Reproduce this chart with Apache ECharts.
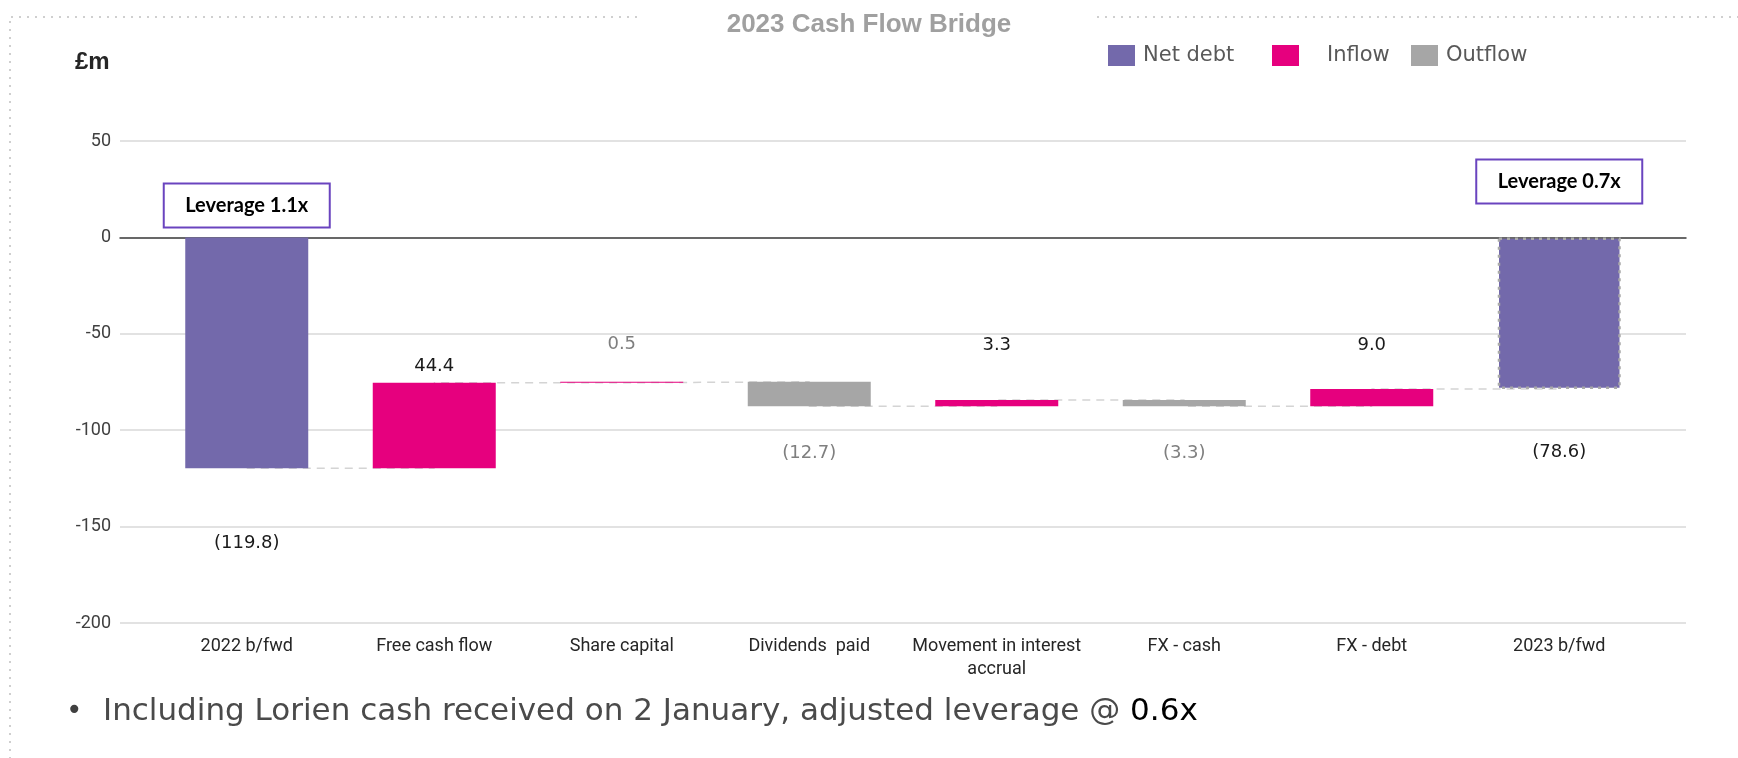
<!DOCTYPE html>
<html>
<head>
<meta charset="utf-8">
<script src="https://cdn.jsdelivr.net/npm/echarts@6/dist/echarts.min.js"></script>
<style>
  html, body { margin: 0; padding: 0; background: #ffffff; }
  #chart { width: 1738px; height: 758px; }
</style>
</head>
<body>
<div id="chart"></div>
<script>
// ---- data ----
const categories = ['2022 b/fwd', 'Free cash flow', 'Share capital', 'Dividends  paid',
  'Movement in interest\naccrual', 'FX - cash', 'FX - debt', '2023 b/fwd'];
const openingNetDebt = -119.8;
const closingNetDebt = -78.6;
// movements for the six bridge steps (positive = inflow, negative = outflow)
const movements = [44.4, 0.5, -12.7, 3.3, -3.3, 9.0];
const leverageLabels = ['Leverage 1.1x', 'Leverage 0.7x'];
const yTickValues = [-200, -150, -100, -50, 0, 50];
const footnoteText = 'Including Lorien cash received on 2 January, adjusted leverage @ ';
const footnoteValue = '0.6x';

// ---- colours / styling ----
const C_NET = '#7369ab';
const C_IN = '#e6007e';
const C_OUT = '#a6a6a6';
const LABEL_DARK = '#1a1a1a';
const LABEL_GREY = '#7f7f7f';
const LABEL_FONT = 'DejaVu Sans';

// label distance (px) from each bar edge, by category index
const labelGap = [66, 7, 28, 38, 46, 38, 35, 54];
const labelGrey = [false, false, true, true, false, true, false, false];
const leverageGap = [11, 35];

const round1 = v => Math.round(v * 10) / 10;

// running net debt after each category
const totals = [openingNetDebt];
movements.forEach(m => totals.push(round1(totals[totals.length - 1] + m)));
totals.push(closingNetDebt);

const last = categories.length - 1;
const baseData = [], netData = [], inData = [], outData = [];

const valueLabel = (i, text, pos) => ({
  show: true, position: pos, distance: labelGap[i], formatter: text,
  color: labelGrey[i] ? LABEL_GREY : LABEL_DARK,
  fontFamily: LABEL_FONT, fontSize: 18
});

const leverageLabel = (text, gap) => ({
  show: true, position: 'top', distance: gap, formatter: text,
  color: '#000000', fontFamily: 'Lato', fontWeight: 'bold', fontSize: 20,
  backgroundColor: '#ffffff', borderColor: '#6a44bf', borderWidth: 2,
  width: 164, height: 42, lineHeight: 42, align: 'center', padding: 0
});

categories.forEach((c, i) => {
  if (i === 0 || i === last) {
    const v = i === 0 ? openingNetDebt : closingNetDebt;
    baseData.push({ value: 0, label: leverageLabel(leverageLabels[i === 0 ? 0 : 1], leverageGap[i === 0 ? 0 : 1]) });
    const item = { value: v, label: valueLabel(i, '(' + Math.abs(v).toFixed(1) + ')', 'bottom') };
    if (i === last) {
      // closing balance outlined with a dotted frame
      item.itemStyle = { borderColor: '#a9a9a9', borderWidth: 2.5, borderType: [3, 5] };
    }
    netData.push(item);
    inData.push('-');
    outData.push('-');
  } else {
    const m = movements[i - 1];
    const upper = Math.max(totals[i - 1], totals[i]);
    baseData.push(upper);
    netData.push('-');
    if (m >= 0) {
      inData.push({ value: -m, label: valueLabel(i, m.toFixed(1), 'top') });
      outData.push('-');
    } else {
      outData.push({ value: m, label: valueLabel(i, '(' + Math.abs(m).toFixed(1) + ')', 'bottom') });
      inData.push('-');
    }
  }
});

const chart = echarts.init(document.getElementById('chart'), null, { renderer: 'canvas' });

const TOP = 141, BOTTOM = 135;

const option = {
  animation: false,
  backgroundColor: '#ffffff',
  title: {
    text: '2023 Cash Flow Bridge',
    left: 'center', top: 7,
    textStyle: { color: '#a0a0a0', fontSize: 26, fontWeight: 'bold', fontFamily: 'Liberation Sans' }
  },
  legend: [
    { data: ['Net debt'], left: 1108, top: 45 },
    { data: [{ name: 'Inflow', textStyle: { padding: [0, 0, 5, 23] } }], left: 1272, top: 45 },
    { data: ['Outflow'], left: 1411, top: 45 }
  ].map(l => Object.assign({
    icon: 'rect', itemWidth: 27, itemHeight: 21, selectedMode: false, padding: 0,
    textStyle: { color: '#595959', fontSize: 21, fontFamily: 'DejaVu Sans', padding: [0, 0, 5, 3] }
  }, l)),
  grid: [
    { left: 120, right: 52, top: TOP, bottom: BOTTOM },
    { left: 153, right: 85, top: TOP, bottom: BOTTOM }
  ],
  xAxis: [
    {
      gridIndex: 0, type: 'value', min: 0, max: 1,
      axisLine: { show: true, onZero: true, lineStyle: { color: '#404040', width: 1.5 } },
      axisTick: { show: false }, axisLabel: { show: false }, splitLine: { show: false }
    },
    {
      gridIndex: 1, type: 'category', data: categories,
      axisLine: { show: false }, axisTick: { show: false },
      axisLabel: { color: '#262626', fontSize: 18, fontFamily: 'Roboto', margin: 12, lineHeight: 23, interval: 0 }
    }
  ],
  yAxis: [
    {
      gridIndex: 0, type: 'value',
      min: yTickValues[0], max: yTickValues[yTickValues.length - 1],
      interval: yTickValues[1] - yTickValues[0],
      axisLine: { show: false }, axisTick: { show: false },
      axisLabel: { color: '#404040', fontSize: 18, fontFamily: 'Roboto', margin: 9 },
      splitLine: { lineStyle: { color: '#d9d9d9', width: 1.5 } }
    },
    {
      gridIndex: 1, type: 'value',
      min: yTickValues[0], max: yTickValues[yTickValues.length - 1],
      interval: yTickValues[1] - yTickValues[0],
      show: false, splitLine: { show: false }
    }
  ],
  series: [
    {
      name: 'connector', type: 'line', xAxisIndex: 1, yAxisIndex: 1,
      step: 'end', data: totals, symbol: 'none', silent: true, z: 1,
      lineStyle: { color: '#d4d4d4', width: 1.5, type: [8, 6] }
    },
    {
      name: 'base', type: 'bar', stack: 'bridge', xAxisIndex: 1, yAxisIndex: 1,
      barWidth: 123, data: baseData, silent: true,
      itemStyle: { color: 'rgba(0,0,0,0)' }
    },
    {
      name: 'Net debt', type: 'bar', stack: 'bridge', xAxisIndex: 1, yAxisIndex: 1,
      barWidth: 123, data: netData, itemStyle: { color: C_NET }
    },
    {
      name: 'Inflow', type: 'bar', stack: 'bridge', xAxisIndex: 1, yAxisIndex: 1,
      barWidth: 123, data: inData, itemStyle: { color: C_IN }
    },
    {
      name: 'Outflow', type: 'bar', stack: 'bridge', xAxisIndex: 1, yAxisIndex: 1,
      barWidth: 123, data: outData, itemStyle: { color: C_OUT }
    }
  ],
  graphic: [
    // dotted frame
    { type: 'line', shape: { x1: 11, y1: 17, x2: 641, y2: 17 }, style: { stroke: '#cfcfcf', lineWidth: 2, lineDash: [2, 6] }, silent: true },
    { type: 'line', shape: { x1: 1097, y1: 17, x2: 1738, y2: 17 }, style: { stroke: '#cfcfcf', lineWidth: 2, lineDash: [2, 6] }, silent: true },
    { type: 'line', shape: { x1: 10, y1: 21, x2: 10, y2: 758 }, style: { stroke: '#cfcfcf', lineWidth: 2, lineDash: [2, 6] }, silent: true },
    // unit
    { type: 'text', left: 75, top: 50, style: { text: '£m', fill: '#262626', font: 'bold 24px "Liberation Sans"' }, silent: true },
    // footnote
    { type: 'text', silent: true, style: { x: 66, y: 712, verticalAlign: 'middle', text: '•', fill: '#404040', font: '28px "DejaVu Sans"' } },
    {
      type: 'text', silent: true,
      style: {
        x: 103, y: 712, verticalAlign: 'middle',
        text: '{a|' + footnoteText + '}{b|' + footnoteValue + '}',
        rich: {
          a: { fill: '#4a4a4a', fontFamily: 'DejaVu Sans', fontSize: 31 },
          b: { fill: '#000000', fontFamily: 'DejaVu Sans', fontSize: 31 }
        }
      }
    }
  ]
};

chart.setOption(option);
</script>
</body>
</html>
